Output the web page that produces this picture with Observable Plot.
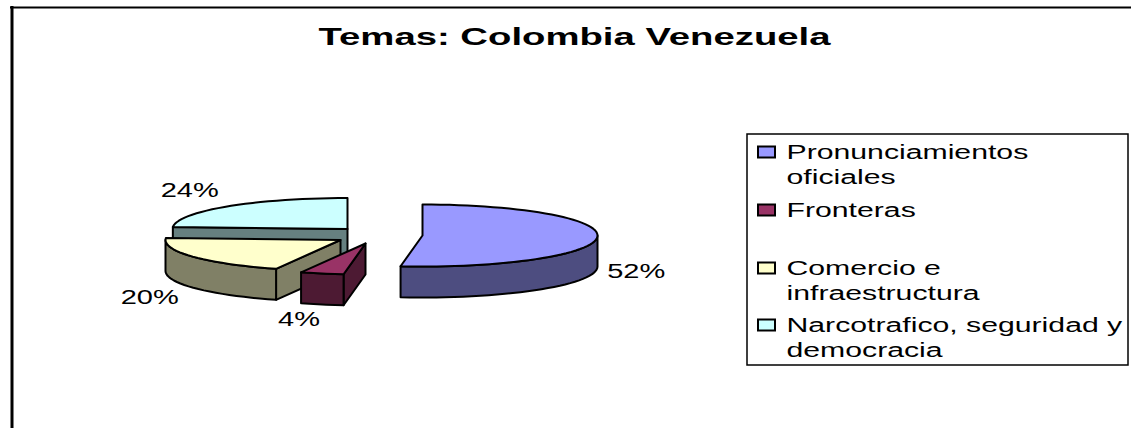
<!DOCTYPE html>
<html>
<head>
<meta charset="utf-8">
<script src="https://cdn.jsdelivr.net/npm/d3@7"></script>
<script src="https://cdn.jsdelivr.net/npm/@observablehq/plot@0.6"></script>
<style>
html,body{margin:0;padding:0;background:#fff;overflow:hidden}
svg{display:block}
</style>
</head>
<body>
<div id="chart"></div>
<script>
const title = "Temas: Colombia Venezuela";
const categories = ["Pronunciamientos oficiales", "Fronteras", "Comercio e infraestructura", "Narcotrafico, seguridad y democracia"];
const shares = [52, 4, 20, 24];
const topColors = ["#9999FF", "#993366", "#FFFFCC", "#CCFFFF"];
const wallColors = ["#4D4D80", "#4D1A33", "#808066", "#668080"];
const legendLines = [["Pronunciamientos", "oficiales"], ["Fronteras"], ["Comercio e", "infraestructura"], ["Narcotrafico, seguridad y", "democracia"]];

// Layout of the exploded 3D pie (scale units = pixels)
const centerX = [422, 365, 340, 347];
const centerY = [235, 243, 239.5, 228.5];
const rx = 175, ry = 31, depth = 31;
const labelDX = [39, -23, -43, -38];
const labelDY = [34, 46, 41, -16];

const rim = (i, deg, d = 0) => {
  const a = deg * Math.PI / 180;
  return {x: centerX[i] + rx * Math.sin(a), y: centerY[i] - ry * Math.cos(a) + d};
};
const arc = (i, a0, a1, d = 0) => {
  const n = Math.max(2, Math.ceil(Math.abs(a1 - a0) / 3));
  return d3.range(n + 1).map(k => rim(i, a0 + (a1 - a0) * k / n, d));
};
let acc = 0;
const slices = shares.map((v, i) => {
  const start = acc / 100 * 360;
  acc += v;
  return {i, start, end: acc / 100 * 360, mid: (start + v / 200 * 360)};
});
const faces = [];
const closed = pts => [...pts, pts[0]];
for (const s of [slices[3], slices[2], slices[1], slices[0]]) {
  const {i, start, end} = s;
  const apex = {x: centerX[i], y: centerY[i]};
  const apexLow = {x: apex.x, y: apex.y + depth};
  if (i > 0) faces.push({color: wallColors[i], pts: closed([apex, rim(i, start), rim(i, start, depth), apexLow])});
  const w0 = Math.max(start, 90), w1 = Math.min(end, 270);
  if (w1 > w0) faces.push({color: wallColors[i], pts: closed([...arc(i, w0, w1), ...arc(i, w1, w0, depth)])});
  faces.push({color: topColors[i], pts: closed([apex, ...arc(i, start, end)])});
}
const faceMarks = faces.map(f => Plot.line(f.pts, {x: "x", y: "y", fill: f.color, stroke: "#000", strokeWidth: 2, strokeLinejoin: "round"}));

const labels = slices.map(s => {
  const p = rim(s.i, s.mid);
  return {text: shares[s.i] + "%", x: p.x + labelDX[s.i], y: p.y + labelDY[s.i]};
});

const rowY = [152, 210, 268, 325];
const lineGap = 25;
const swatches = categories.map((c, i) => ({c, i, x1: 758, x2: 775, y1: rowY[i] - 5.5, y2: rowY[i] + 5.5}));
const legendText = legendLines.flatMap((ls, i) => ls.map((t, k) => ({t, x: 786, y: rowY[i] + k * lineGap})));

const plot = Plot.plot({
  width: 1131, height: 428,
  margin: 0,
  x: {domain: [0, 1131], range: [0, 1131], axis: null},
  y: {domain: [0, 428], range: [0, 428], axis: null},
  style: {fontFamily: "'Liberation Sans', Arial, sans-serif", background: "#fff"},
  marks: [
    Plot.ruleY([7], {x1: 10, x2: 1131, stroke: "#000", strokeWidth: 2}),
    Plot.ruleX([11.5], {y1: 6, y2: 428, stroke: "#000", strokeWidth: 3}),
    Plot.text([title], {x: 574, y: 37, text: d => d, fontSize: 24, fontWeight: "bold", fill: "#000", className: "stretch-title"}),
    ...faceMarks,
    Plot.text(labels, {x: "x", y: "y", text: "text", fontSize: 20, fill: "#000", className: "stretch-label"}),
    Plot.rect([0], {x1: 747, x2: 1128, y1: 134, y2: 365, fill: "#fff", stroke: "#000", strokeWidth: 1.5}),
    Plot.rect(swatches, {x1: "x1", x2: "x2", y1: "y1", y2: "y2", fill: d => topColors[d.i], stroke: "#000", strokeWidth: 2}),
    Plot.text(legendText, {x: "x", y: "y", text: "t", textAnchor: "start", fontSize: 20, fill: "#000", className: "stretch-legend"})
  ]
});
document.getElementById("chart").append(plot);

// The reference's text is stretched horizontally.
const stretch = {"stretch-title": 1.595, "stretch-label": 1.45, "stretch-legend": 1.51};
for (const [cls, k] of Object.entries(stretch)) {
  plot.querySelectorAll("." + cls + " text").forEach(t => {
    t.setAttribute("textLength", t.getComputedTextLength() * k);
    t.setAttribute("lengthAdjust", "spacingAndGlyphs");
  });
}
</script>
</body>
</html>
